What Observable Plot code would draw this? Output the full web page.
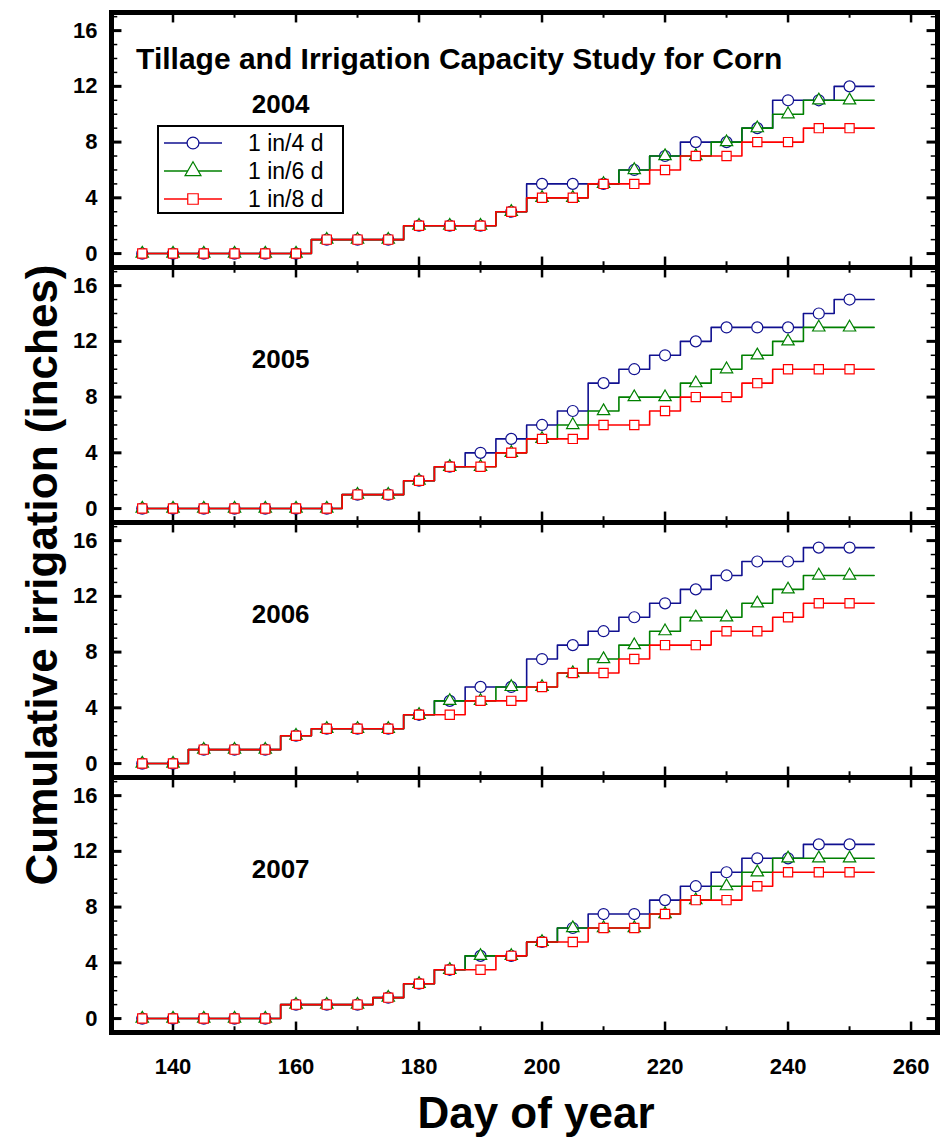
<!DOCTYPE html>
<html>
<head>
<meta charset="utf-8">
<script src="https://cdn.jsdelivr.net/npm/d3@7"></script>
<script src="https://cdn.jsdelivr.net/npm/@observablehq/plot@0.6"></script>
<style>
  body { margin: 0; background: #fff; font-family: "Liberation Sans", Arial, sans-serif; }
  #wrap { position: relative; width: 943px; height: 1141px; }
  .lbl { position: absolute; font-weight: bold; color: #000; white-space: nowrap; }
  #legend { position: absolute; left: 157px; top: 125px; width: 183px; height: 85px; border: 2px solid #000; background: #fff; }
</style>
</head>
<body>
<div id="wrap">
  <div id="chart"></div>
  <div class="lbl" style="left:536px; top:1088px; transform:translateX(-50%); font-size:44px;">Day of year</div>
  <div class="lbl" style="left:42px; top:575px; transform:translate(-50%,-50%) rotate(-90deg); font-size:44px;">Cumulative irrigation (inches)</div>
  <div id="legend"></div>
</div>
<script>
// marker days (every 5 days) and where the lines end
const days = d3.range(135, 251, 5)
const lastDay = 254
const years = [2004, 2005, 2006, 2007]
const seriesNames = ["1 in/4 d", "1 in/6 d", "1 in/8 d"]
const colors = ["#101090", "#008000", "#ff0000"]
const symbols = ["circle", "triangle", "square"]

// cumulative irrigation (inches) at each marker day
const y2004_4d = [0,0,0,0,0,0,1,1,1,2,2,2,3,5,5,5,6,7,8,8,9,11,11,12]
const y2004_6d = [0,0,0,0,0,0,1,1,1,2,2,2,3,4,4,5,6,7,7,8,9,10,11,11]
const y2004_8d = [0,0,0,0,0,0,1,1,1,2,2,2,3,4,4,5,5,6,7,7,8,8,9,9]

const y2005_4d = [0,0,0,0,0,0,0,1,1,2,3,4,5,6,7,9,10,11,12,13,13,13,14,15]
const y2005_6d = [0,0,0,0,0,0,0,1,1,2,3,3,4,5,6,7,8,8,9,10,11,12,13,13]
const y2005_8d = [0,0,0,0,0,0,0,1,1,2,3,3,4,5,5,6,6,7,8,8,9,10,10,10]

const y2006_4d = [0,0,1,1,1,2,2.5,2.5,2.5,3.5,4.5,5.5,5.5,7.5,8.5,9.5,10.5,11.5,12.5,13.5,14.5,14.5,15.5,15.5]
const y2006_6d = [0,0,1,1,1,2,2.5,2.5,2.5,3.5,4.5,4.5,5.5,5.5,6.5,7.5,8.5,9.5,10.5,10.5,11.5,12.5,13.5,13.5]
const y2006_8d = [0,0,1,1,1,2,2.5,2.5,2.5,3.5,3.5,4.5,4.5,5.5,6.5,6.5,7.5,8.5,8.5,9.5,9.5,10.5,11.5,11.5]

const y2007_4d = [0,0,0,0,0,1,1,1,1.5,2.5,3.5,4.5,4.5,5.5,6.5,7.5,7.5,8.5,9.5,10.5,11.5,11.5,12.5,12.5]
const y2007_6d = [0,0,0,0,0,1,1,1,1.5,2.5,3.5,4.5,4.5,5.5,6.5,6.5,6.5,7.5,8.5,9.5,10.5,11.5,11.5,11.5]
const y2007_8d = [0,0,0,0,0,1,1,1,1.5,2.5,3.5,3.5,4.5,5.5,5.5,6.5,6.5,7.5,8.5,8.5,9.5,10.5,10.5,10.5]

const yMajor = [0, 4, 8, 12, 16]
const yMinor = [-1, 1, 2, 3, 5, 6, 7, 9, 10, 11, 13, 14, 15, 17]
const xLabels = [140, 160, 180, 200, 220, 240, 260]
const xMinor = [150, 170, 190, 210, 230, 250]

const byYear = {
  2004: [y2004_4d, y2004_6d, y2004_8d],
  2005: [y2005_4d, y2005_6d, y2005_8d],
  2006: [y2006_4d, y2006_6d, y2006_8d],
  2007: [y2007_4d, y2007_6d, y2007_8d]
}

const xDom = [130, 264.3]
const yDom = [-1, 17.3]

const pts = []
const lines = []
years.forEach(yr => {
  byYear[yr].forEach((vals, s) => {
    vals.forEach((v, i) => {
      pts.push({year: yr, s, day: days[i], v})
      lines.push({year: yr, s, day: days[i], v})
    })
    lines.push({year: yr, s, day: lastDay, v: vals[vals.length - 1]})
  })
})

const seriesMarks = []
;[0, 1, 2].forEach(s => {
  seriesMarks.push(Plot.line(lines.filter(d => d.s === s), {x: "day", y: "v", fy: "year", stroke: colors[s], strokeWidth: 1.6, curve: "step"}))
  seriesMarks.push(Plot.dot(pts.filter(d => d.s === s), {x: "day", y: "v", fy: "year", symbol: () => symbols[s], r: [5.5, 4.6, 5.2][s], stroke: colors[s], fill: "white", strokeWidth: 1.2}))
})

const tk = 1.7   // major tick length in days
const tkY = 0.75 // major tick length in inches

const chart = Plot.plot({
  width: 943,
  height: 1141,
  marginLeft: 111,
  marginRight: 6,
  marginTop: 10,
  marginBottom: 108,
  x: {domain: xDom},
  y: {domain: yDom},
  fy: {domain: years, padding: 0, axis: null},
  symbol: {domain: symbols, range: symbols},
  style: {fontFamily: "Liberation Sans, Arial, sans-serif", fontWeight: "bold", fontSize: "22px", color: "#000", background: "#fff"},
  marks: [
    // inward ticks
    Plot.ruleY(yMajor, {y: d => d, x1: xDom[0], x2: xDom[0] + tk, strokeWidth: 3}),
    Plot.ruleY(yMajor, {y: d => d, x1: xDom[1], x2: xDom[1] - tk, strokeWidth: 3}),
    Plot.ruleY(yMinor, {y: d => d, x1: xDom[0], x2: xDom[0] + tk * 0.6, strokeWidth: 1.5}),
    Plot.ruleY(yMinor, {y: d => d, x1: xDom[1], x2: xDom[1] - tk * 0.6, strokeWidth: 1.5}),
    Plot.ruleX(xLabels, {x: d => d, y1: yDom[0], y2: yDom[0] + tkY, strokeWidth: 2.5}),
    Plot.ruleX(xLabels, {x: d => d, y1: yDom[1], y2: yDom[1] - tkY, strokeWidth: 2.5}),
    Plot.ruleX(xMinor, {x: d => d, y1: yDom[0], y2: yDom[0] + tkY * 0.55, strokeWidth: 2}),
    Plot.ruleX(xMinor, {x: d => d, y1: yDom[1], y2: yDom[1] - tkY * 0.55, strokeWidth: 2}),
    ...seriesMarks,
    Plot.text(years, {fy: d => d, x: 157.5, y: 10.7, text: d => String(d), fontSize: 26, fontWeight: "bold"}),
    Plot.text(["Tillage and Irrigation Capacity Study for Corn"], {fy: () => 2004, x: 134, y: 13.9, text: d => d, textAnchor: "start", fontSize: 30, fontWeight: "bold"}),
    Plot.axisY(yMajor, {tickSize: 0, tickPadding: 14, fontSize: 22, fontWeight: "bold", label: null}),
    Plot.axisX(xLabels, {tickSize: 0, tickPadding: 26, fontSize: 22, fontWeight: "bold", label: null}),
    Plot.frame({stroke: "#000", strokeWidth: 5})
  ]
})
document.querySelector("#chart").append(chart)

// legend
const leg = d3.select("#legend")
seriesNames.forEach((name, s) => {
  const row = leg.append("div").style("position", "absolute").style("left", "5px").style("top", (2 + s * 28) + "px").style("height", "28px").style("display", "flex").style("align-items", "center")
  const svg = row.append("svg").attr("width", 58).attr("height", 28)
  svg.append("line").attr("x1", 0).attr("x2", 58).attr("y1", 14).attr("y2", 14).attr("stroke", colors[s]).attr("stroke-width", 1.6)
  svg.append("path").attr("d", d3.symbol(s === 0 ? d3.symbolCircle : s === 1 ? d3.symbolTriangle : d3.symbolSquare, 110)).attr("transform", "translate(29,14)")
    .attr("fill", "white").attr("stroke", colors[s]).attr("stroke-width", 1.2)
  row.append("span").text(name).style("margin-left", "26px").style("font-size", "23px").style("font-weight", "normal")
})
</script>
</body>
</html>
